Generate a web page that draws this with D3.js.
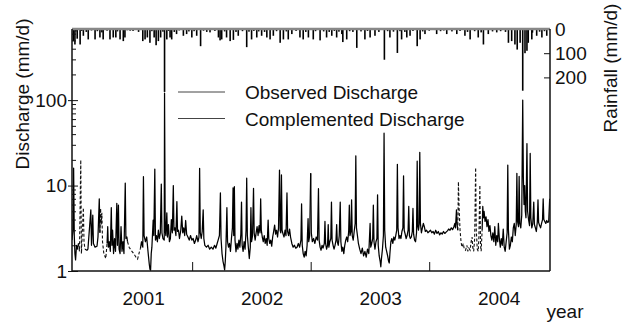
<!DOCTYPE html>
<html>
<head>
<meta charset="utf-8">
<script src="https://cdn.jsdelivr.net/npm/d3@7/dist/d3.min.js"></script>
<style>
  body { margin: 0; background: #fff; }
  text { font-family: "Liberation Sans", Arial, sans-serif; }
</style>
</head>
<body>
<svg id="chart" width="631" height="322"></svg>
<script>
// day offsets are counted from startDate
const startDate = new Date(Date.UTC(2000, 4, 27));
const lastDay = 1472;

const yearLabels = ['2001', '2002', '2003', '2004'];
const yearLabelDays = [219, 584, 949, 1314];
const yearTickDays = [370, 735, 1100];
const dischargeTicks = [1, 10, 100];
const rainTicks = [0, 100, 200];

// observed discharge (mm/d), continuous pieces as [day, value]
const observedA = [[0,2.3],[3,3.0],[5,16],[7,2.6],[9,1.6],[11,1.35],[14,2.0],[17,1.8],[20,2.1]];
const observedB = [[40,1.8],[46,1.75],[49,1.8],[58,5.2],[60,2.0],[64,4.5],[66,2.1],[71,1.9],[77,1.95],[80,2.5],[84,7.0],[86,2.8]];
const observedC = [[108,2.1],[110,3.3],[112,1.9],[115,2.2],[118,1.7],[121,5.5],[123,2.0],[125,3.0],[128,1.6],[131,2.4],[134,1.7],[138,6.2],[140,2.0],[143,5.9],[145,1.8],[148,1.6],[151,3.3],[154,1.7],[157,2.2],[160,1.6],[164,10.7],[166,2.4],[169,2.5],[171,2.2]];
const observedD = [[211,1.85],[214,2.2],[218,1.9],[220,12.7],[222,2.6],[226,2.2],[230,2.5],[234,1.7],[238,1.2],[240,1.05],[242,1.02],[244,1.6],[246,1.9],[250,3.95],[252,2.6],[255,15.6],[257,2.3],[260,2.6],[263,2.2],[266,3.0],[269,2.4],[272,2.8],[275,10.4],[277,2.8],[280,2.4],[284,2.3],[285,121],[287,3.0],[289,2.6],[292,4.8],[294,2.5],[297,3.5],[300,2.2],[303,2.4],[306,4.0],[309,2.8],[312,10.0],[314,3.0],[317,3.2],[320,2.6],[323,6.5],[325,2.9],[328,3.0],[331,2.4],[335,3.0],[338,4.4],[341,2.8],[344,3.2],[347,2.6],[350,3.9],[353,2.7],[357,2.5],[361,2.3],[365,2.6],[369,2.3],[373,2.4],[377,2.1],[381,2.3],[384,2.6],[388,2.2],[391,2.5],[393,15.9],[395,2.8],[398,2.4],[401,2.9],[404,5.2],[406,2.4],[409,2.0],[414,1.9],[419,2.0],[424,1.8],[429,1.9],[434,1.8],[439,2.0],[443,1.85],[447,2.1],[450,2.3],[454,2.6],[457,8.2],[459,2.4],[462,1.6],[465,1.3],[468,1.15],[470,1.03],[472,1.3],[474,1.9],[477,5.5],[479,2.2],[482,1.9],[485,2.1],[488,1.7],[491,2.4],[494,3.2],[496,9.4],[498,2.6],[500,9.7],[502,2.3],[505,1.68],[508,2.1],[511,1.8],[514,2.3],[517,1.9],[520,2.7],[522,6.4],[524,2.0],[527,1.7],[530,2.2],[533,1.8],[536,3.0],[538,12.2],[540,2.6],[543,1.9],[546,1.4],[549,1.9],[551,5.5],[553,2.2],[556,2.6],[559,9.3],[561,2.8],[564,2.3],[567,2.8],[570,3.3],[573,2.6],[576,3.4],[579,2.8],[581,7.0],[583,3.0],[586,2.5],[589,2.2],[592,2.6],[595,2.1],[598,2.4],[601,2.0],[604,3.95],[606,2.4],[609,2.1],[612,2.3],[615,1.95],[618,2.5],[621,2.9],[624,3.45],[627,2.7],[630,3.0],[633,2.5],[636,3.2],[639,15.2],[641,3.0],[643,2.8],[645,13.3],[647,3.0],[650,2.7],[653,2.5],[656,3.0],[659,2.6],[662,8.2],[664,2.9],[667,2.6],[670,3.1],[673,2.5],[677,2.1],[681,1.9],[685,2.0],[689,1.85],[693,1.9],[697,2.1],[701,1.9],[705,2.3],[707,6.1],[709,2.0],[712,1.6],[715,1.45],[718,1.7],[721,1.5],[724,2.0],[727,4.1],[729,2.2],[732,2.6],[735,13.9]];
const observedE = [[735,13.9],[737,2.8],[740,2.2],[744,2.4],[748,2.1],[752,2.5],[756,2.3],[759,9.2],[761,2.3],[764,1.9],[767,1.75],[770,2.0],[773,1.85],[777,2.1],[779,3.8],[781,2.1],[784,1.8],[787,2.0],[789,3.5],[791,1.9],[794,2.2],[797,2.4],[799,6.4],[801,2.3],[804,2.0],[807,1.8],[810,2.0],[813,2.3],[815,3.5],[817,2.2],[820,2.0],[823,2.6],[826,6.4],[828,2.2],[831,1.7],[834,1.9],[837,1.6],[840,2.0],[843,2.3],[846,2.5],[849,2.2],[852,2.9],[854,5.9],[856,2.6],[859,2.9],[861,6.8],[863,2.6],[866,2.3],[869,2.9],[872,3.6],[874,22.3],[876,3.2],[879,2.6],[882,2.1],[886,1.8],[890,1.6],[894,1.85],[898,1.5],[902,1.7],[906,1.45],[910,1.8],[914,1.6],[918,3.6],[920,1.9],[923,2.1],[926,2.4],[928,5.9],[930,2.2],[933,1.8],[936,2.2],[939,2.4],[941,7.8],[943,2.0],[946,1.5],[949,1.3],[951,1.12],[953,1.4],[956,1.8],[959,2.6],[961,41],[963,3.0],[966,1.9],[969,1.7],[972,1.5],[975,1.3],[977,1.24],[979,1.6],[982,2.2],[985,2.4],[988,2.1],[991,2.5],[994,2.3],[997,2.6],[1000,3.0],[1002,17.7],[1004,3.2],[1007,2.4],[1010,2.6],[1013,2.4],[1016,2.9],[1019,3.2],[1021,13.0],[1023,3.0],[1026,2.7],[1029,2.4],[1032,2.6],[1035,3.0],[1037,5.7],[1039,2.6],[1042,2.4],[1045,2.5],[1048,2.9],[1050,5.4],[1052,2.7],[1055,2.3],[1058,2.2],[1061,2.8],[1063,19.3],[1065,3.3],[1067,3.0],[1069,3.5],[1071,24.5],[1073,3.6],[1076,2.8],[1079,3.2],[1082,3.6],[1085,3.3],[1088,2.9],[1092,3.0],[1096,2.8],[1100,2.9],[1104,3.0],[1108,2.8],[1112,2.9],[1116,2.7],[1120,3.0],[1124,2.75],[1128,2.9],[1132,2.65],[1136,2.8],[1140,2.7],[1144,2.9],[1148,2.75],[1152,2.85],[1156,2.95],[1160,3.1],[1164,3.0],[1168,3.2],[1172,3.05],[1176,3.3],[1179,3.6],[1181,3.2],[1184,5.2],[1186,3.5],[1188,3.0]];
const observedF = [[1263,3.0],[1265,5.7],[1267,4.2],[1269,5.0],[1272,3.8],[1275,4.3],[1278,3.3],[1281,4.0],[1284,2.9],[1287,3.4],[1290,2.6],[1293,2.3],[1296,2.8],[1299,2.2],[1302,3.3],[1305,2.0],[1308,2.6],[1311,2.2],[1313,3.6],[1316,2.4],[1319,1.9],[1322,2.4],[1325,2.0],[1328,3.1],[1331,1.9],[1334,1.7],[1337,2.2],[1340,2.8],[1342,17.4],[1344,3.0],[1347,1.8],[1350,2.0],[1353,2.5],[1356,2.2],[1359,3.2],[1362,3.6],[1365,2.6],[1368,3.5],[1370,13.9],[1372,3.8],[1375,3.3],[1377,12.8],[1379,3.6],[1382,3.2],[1385,4.5],[1388,100],[1390,12],[1392,6],[1394,10],[1396,5.0],[1398,4.2],[1401,31],[1403,5.0],[1406,4.0],[1409,3.4],[1411,23.8],[1413,4.2],[1416,3.2],[1419,3.6],[1422,6.4],[1424,3.5],[1427,3.2],[1430,2.9],[1433,3.8],[1435,6.8],[1437,3.7],[1440,3.4],[1443,3.2],[1446,3.6],[1449,4.0],[1451,7.0],[1453,4.0],[1456,3.8],[1459,3.6],[1462,3.9],[1465,3.7],[1468,3.8],[1471,7.0]];

// complemented discharge filling the gaps
const complementedA = [[20,2.1],[23,1.7],[27,20],[29,1.6],[32,3.0],[35,5.5],[37,2.2],[40,1.8]];
const complementedB = [[86,2.8],[88,5.4],[90,3.5],[92,4.8],[94,2.2],[98,1.6],[104,1.4],[108,2.1]];
const complementedC = [[171,2.2],[176,1.9],[182,1.75],[190,1.6],[197,1.45],[202,1.38],[208,1.7],[211,1.85]];
const complementedD = [[1188,3.0],[1190,11.1],[1192,5.5],[1195,3.0],[1198,2.2],[1201,1.9],[1205,2.1],[1208,1.8],[1212,1.75],[1216,2.0],[1219,1.7],[1222,1.85],[1226,1.75],[1229,2.2],[1232,2.5],[1234,1.9],[1237,1.7],[1240,2.4],[1243,16.2],[1245,3.0],[1248,1.8],[1251,1.7],[1253,2.5],[1256,10.1],[1258,2.0],[1260,1.7],[1263,3.0]];

// daily rainfall (mm/d) as [day, value]
const rainfall = [[4,50],[9,64],[12,10],[16,40],[25,64],[30,8],[35,28],[44,12],[50,43],[60,6],[71,43],[78,9],[86,35],[92,14],[96,43],[108,7],[117,43],[127,35],[135,35],[140,10],[148,43],[158,50],[163,35],[170,5],[179,7],[188,8],[205,12],[218,50],[225,43],[232,35],[240,57],[246,9],[253,35],[259,67],[266,50],[273,35],[280,11],[285,260],[292,43],[297,8],[302,35],[307,43],[315,12],[322,21],[330,6],[343,28],[353,21],[360,10],[369,35],[376,9],[384,28],[396,71],[405,7],[415,12],[425,14],[440,8],[451,35],[456,47],[461,43],[470,10],[476,35],[487,50],[497,45],[505,12],[512,28],[525,9],[538,75],[545,11],[553,43],[560,8],[569,35],[575,10],[584,28],[593,12],[600,35],[610,43],[620,28],[630,9],[641,57],[651,43],[660,10],[666,43],[677,21],[690,8],[702,35],[712,43],[720,12],[728,35],[743,43],[750,9],[764,47],[775,10],[784,35],[792,12],[800,28],[808,8],[815,35],[822,11],[831,21],[834,54],[846,43],[855,9],[865,12],[877,78],[890,10],[902,43],[910,8],[918,35],[933,28],[945,12],[962,127],[972,9],[979,35],[990,11],[1002,99],[1010,9],[1015,43],[1025,12],[1031,35],[1041,28],[1050,8],[1063,71],[1072,43],[1080,10],[1087,21],[1100,7],[1123,21],[1135,9],[1145,6],[1154,21],[1170,10],[1185,21],[1195,8],[1210,28],[1218,12],[1226,43],[1240,9],[1251,35],[1260,14],[1267,64],[1282,21],[1295,10],[1308,14],[1320,9],[1335,12],[1344,57],[1354,50],[1364,64],[1371,85],[1380,57],[1388,255],[1395,100],[1401,90],[1405,57],[1416,43],[1418,15],[1431,28],[1440,11],[1447,35],[1455,9],[1462,28]];

const observedParts = [observedA, observedB, observedC, observedD, observedE, observedF];
const complementedParts = [complementedA, complementedB, complementedC, complementedD];

const width = 631;
const height = 322;
const margin = { top: 29, right: 81, bottom: 51, left: 72 };
const plotW = width - margin.left - margin.right;
const plotH = height - margin.top - margin.bottom;
const fontSize = 19;

const toDate = (d) => d3.utcDay.offset(startDate, d);

const x = d3.scaleUtc()
  .domain([startDate, toDate(lastDay)])
  .range([0, plotW]);

const yQ = d3.scaleLog()
  .domain([1, 680])
  .range([plotH, 0]);

const yR = d3.scaleLinear()
  .domain([0, 1000])
  .range([0, plotH]);

const svg = d3.select('#chart');
svg.append('rect').attr('width', width).attr('height', height).attr('fill', '#fff');

const g = svg.append('g')
  .attr('transform', `translate(${margin.left},${margin.top})`);

g.append('clipPath').attr('id', 'plot-clip')
  .append('rect').attr('width', plotW).attr('height', plotH);

const line = d3.line()
  .x((d) => x(toDate(d[0])))
  .y((d) => yQ(d[1]));

const lines = g.append('g').attr('clip-path', 'url(#plot-clip)');

lines.selectAll('.complemented')
  .data(complementedParts)
  .enter()
  .append('path')
  .attr('class', 'complemented')
  .attr('fill', 'none')
  .attr('stroke', '#111')
  .attr('stroke-width', 1.1)
  .attr('stroke-dasharray', '3,2')
  .attr('d', line);

lines.selectAll('.observed')
  .data(observedParts)
  .enter()
  .append('path')
  .attr('class', 'observed')
  .attr('fill', 'none')
  .attr('stroke', '#000')
  .attr('stroke-width', 1.25)
  .attr('stroke-linejoin', 'round')
  .attr('d', line);

// rainfall bars hang from the top
g.selectAll('.rain')
  .data(rainfall)
  .enter()
  .append('rect')
  .attr('class', 'rain')
  .attr('x', (d) => x(toDate(d[0])) - 0.8)
  .attr('y', 0)
  .attr('width', 1.6)
  .attr('height', (d) => yR(d[1]))
  .attr('fill', '#000');

// axes
function styleAxis(sel) {
  sel.select('.domain').remove();
  sel.attr('font-size', fontSize)
    .attr('font-family', '"Liberation Sans", Arial, sans-serif');
  sel.selectAll('text').attr('fill', '#111');
  sel.selectAll('line').attr('stroke', '#111');
}

// minor log ticks
const minorTicks = [];
[1, 10, 100].forEach((base) => {
  for (let k = 2; k <= 9; k++) {
    if (base * k <= 680) minorTicks.push(base * k);
  }
});

g.append('g')
  .call(d3.axisLeft(yQ).tickValues(minorTicks).tickFormat('').tickSize(-4))
  .call(styleAxis);

const leftAxis = g.append('g')
  .call(d3.axisLeft(yQ).tickValues(dischargeTicks).tickFormat(d3.format('d')).tickSize(-6).tickPadding(5))
  .call(styleAxis);
leftAxis.selectAll('.tick line').attr('x1', -4).attr('x2', 6);

g.append('g')
  .attr('transform', `translate(${plotW},0)`)
  .call(d3.axisRight(yR).tickValues(rainTicks).tickSize(-6).tickPadding(5))
  .call(styleAxis);

g.append('g')
  .attr('transform', `translate(0,${plotH})`)
  .call(d3.axisBottom(x).tickValues(yearTickDays.map(toDate)).tickFormat('').tickSize(-9))
  .call(styleAxis);

const labelAxis = g.append('g')
  .attr('transform', `translate(0,${plotH})`)
  .call(d3.axisBottom(x).tickValues(yearLabelDays.map(toDate)).tickSize(0).tickPadding(21))
  .call(styleAxis);
labelAxis.selectAll('.tick text').text((d, i) => yearLabels[i]);

// frame
g.append('line')
  .attr('x1', 0).attr('x2', plotW).attr('y1', 0).attr('y2', 0)
  .attr('stroke', '#888').attr('stroke-width', 2.5);
g.append('line')
  .attr('x1', 0).attr('x2', 0).attr('y1', 0).attr('y2', plotH)
  .attr('stroke', '#111').attr('stroke-width', 1.5);
g.append('line')
  .attr('x1', plotW).attr('x2', plotW).attr('y1', 0).attr('y2', plotH)
  .attr('stroke', '#111').attr('stroke-width', 1.5);
g.append('line')
  .attr('x1', 0).attr('x2', plotW).attr('y1', plotH).attr('y2', plotH)
  .attr('stroke', '#111').attr('stroke-width', 1.5);

// axis titles
svg.append('text')
  .attr('transform', `translate(29,94) rotate(-90)`)
  .attr('text-anchor', 'middle')
  .attr('font-size', fontSize)
  .attr('fill', '#111')
  .text('Discharge (mm/d)');

svg.append('text')
  .attr('transform', `translate(617,68) rotate(-90)`)
  .attr('text-anchor', 'middle')
  .attr('font-size', fontSize)
  .attr('fill', '#111')
  .text('Rainfall (mm/d)');

svg.append('text')
  .attr('x', 565)
  .attr('y', 318)
  .attr('text-anchor', 'middle')
  .attr('font-size', fontSize)
  .attr('fill', '#111')
  .text('year');

// legend
const legend = svg.append('g').attr('transform', 'translate(178,92)');
const legendItems = ['Observed Discharge', 'Complemented Discharge'];
legendItems.forEach((name, i) => {
  legend.append('line')
    .attr('x1', 0).attr('x2', 47)
    .attr('y1', i * 26.5).attr('y2', i * 26.5)
    .attr('stroke', '#444')
    .attr('stroke-width', 1);
  legend.append('text')
    .attr('x', 67)
    .attr('y', i * 26.5 + 7)
    .attr('font-size', fontSize)
    .attr('fill', '#111')
    .text(name);
});
</script>
</body>
</html>
